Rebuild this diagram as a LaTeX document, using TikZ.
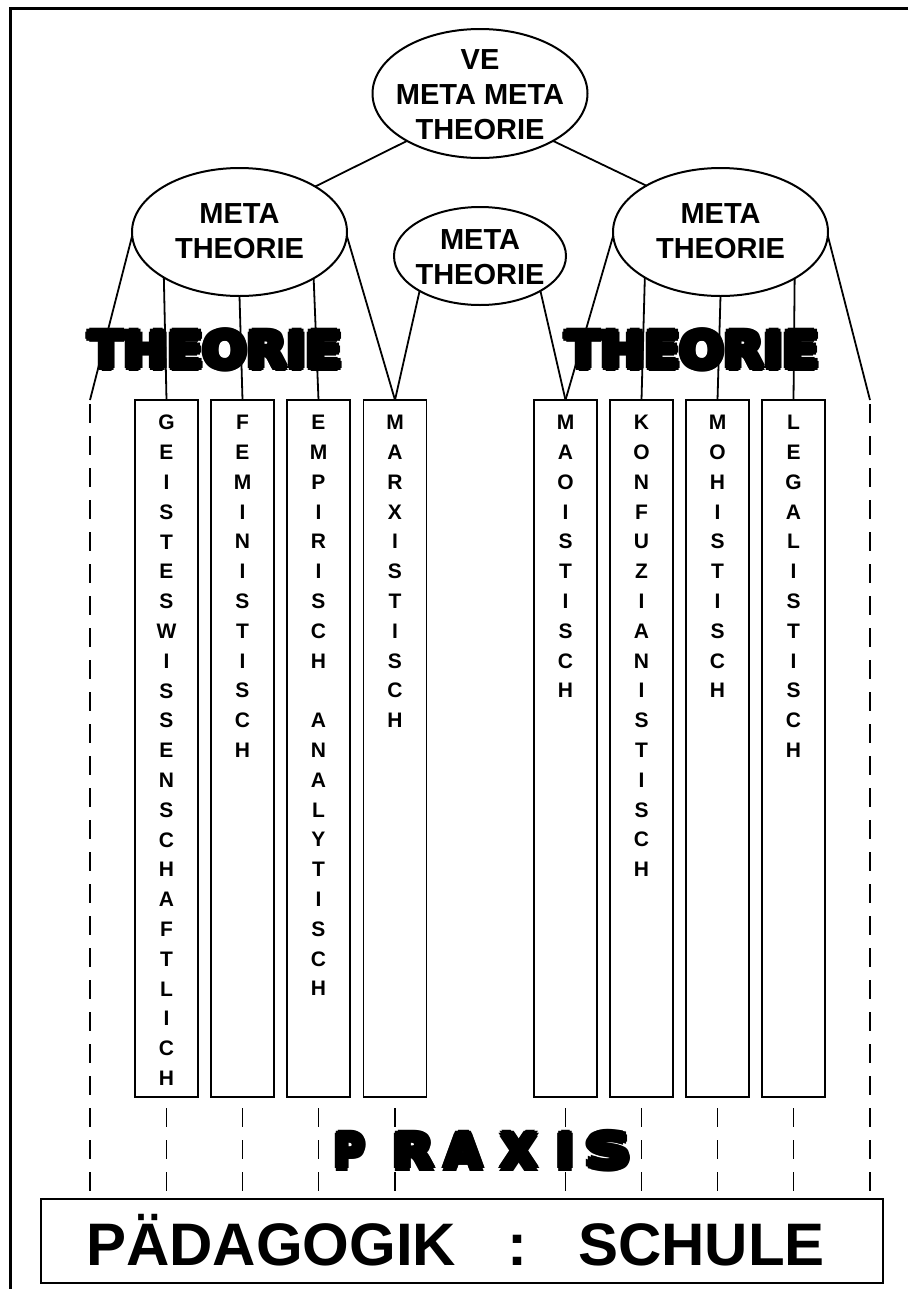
\documentclass[tikz,border=0pt]{standalone}
\usepackage{graphicx}
\usepackage{fontspec}
\setmainfont{Liberation Sans}
\newfontfamily\heavy{DejaVu Sans Bold}
\newdimen\smd
\newcommand\smc[3]{\rlap{\smash{\kern#1\smd\raise#2\smd\hbox{#3}}}}
\newcommand\heavytxt[1]{\smd=0.7pt\leavevmode\heavy
 \smc{1}{0}{#1}\smc{-1}{0}{#1}\smc{0}{1}{#1}\smc{0}{-1}{#1}%
 \smc{0.707}{0.707}{#1}\smc{-0.707}{0.707}{#1}\smc{0.707}{-0.707}{#1}\smc{-0.707}{-0.707}{#1}%
 \hbox{#1}}
\usetikzlibrary{shapes.geometric}
\begin{document}
\begin{tikzpicture}[x=0.75pt,y=-0.75pt,
  ell/.style={draw, ellipse, line width=1.5pt, inner sep=0pt, outer sep=0pt},
  etext/.style={font=\fontsize{21.75pt}{26.25pt}\selectfont\bfseries, align=center, inner sep=0pt},
  colbox/.style={draw, rectangle, line width=1pt, minimum width=47.25pt, minimum height=522.75pt, anchor=north, inner sep=0pt, outer sep=0pt},
  coltext/.style={font=\fontsize{15.75pt}{22.35pt}\selectfont\bfseries, align=center, anchor=north, inner sep=0pt},
  conn/.style={line width=1.35pt},
  dashline/.style={line width=1.3pt, dash pattern=on 14.25pt off 9.75pt},
  bigtext/.style={font=\fontsize{45pt}{54pt}\selectfont\bfseries, inner sep=0pt},
  heavylbl/.style={inner sep=0pt, font=\fontsize{10pt}{12pt}\selectfont}
]
\useasboundingbox (0,0) rectangle (908,1289);
% frame
\draw[line width=1.6pt] (908,8.5) -- (10.5,8.5) -- (10.5,1289);

% ellipses
\node[ell, minimum width=161.25pt, minimum height=96.75pt] (top) at (480,93.5) {};
\node[ell, minimum width=161.25pt, minimum height=96pt] (left) at (239.5,232) {};
\node[ell, minimum width=129pt, minimum height=73.5pt] (mid) at (480,256) {};
\node[ell, minimum width=161.25pt, minimum height=96pt] (right) at (720.5,232) {};
\node[etext] (toptext) at (480,95) {VE\\META META\\THEORIE};
\node[etext] (lefttext) at (239.5,231.5) {META\\THEORIE};
\node[etext] (midtext) at (480,257) {META\\THEORIE};
\node[etext] (righttext) at (720.5,231.5) {META\\THEORIE};

% column boxes
\node[colbox] (b1) at (166.5,400) {};
\node[colbox] (b2) at (242.5,400) {};
\node[colbox] (b3) at (318.5,400) {};
\node[colbox] (b4) at (395,400) {};
\node[colbox] (b5) at (565.5,400) {};
\node[colbox] (b6) at (641.5,400) {};
\node[colbox] (b7) at (717.5,400) {};
\node[colbox] (b8) at (793.5,400) {};

\node[coltext] (t1) at (166.5,415) {G\\E\\I\\S\\T\\E\\S\\W\\I\\S\\S\\E\\N\\S\\C\\H\\A\\F\\T\\L\\I\\C\\H};
\node[coltext] (t2) at (242.5,415) {F\\E\\M\\I\\N\\I\\S\\T\\I\\S\\C\\H};
\node[coltext] (t3) at (318.5,415) {E\\M\\P\\I\\R\\I\\S\\C\\H\\\mbox{}\\A\\N\\A\\L\\Y\\T\\I\\S\\C\\H};
\node[coltext] (t4) at (395,415) {M\\A\\R\\X\\I\\S\\T\\I\\S\\C\\H};
\node[coltext] (t5) at (565.5,415) {M\\A\\O\\I\\S\\T\\I\\S\\C\\H};
\node[coltext] (t6) at (641.5,415) {K\\O\\N\\F\\U\\Z\\I\\A\\N\\I\\S\\T\\I\\S\\C\\H};
\node[coltext] (t7) at (717.5,415) {M\\O\\H\\I\\S\\T\\I\\S\\C\\H};
\node[coltext] (t8) at (793.5,415) {L\\E\\G\\A\\L\\I\\S\\T\\I\\S\\C\\H};

% bottom box
\node[draw, line width=1.5pt, minimum width=631.5pt, minimum height=63pt, inner sep=0pt, outer sep=0pt] (pk) at (462,1241) {};
\node[bigtext, anchor=base west] (paed) at (86,1265) {PÄDAGOGIK};
\node[bigtext, anchor=base] (colon) at (517,1265) {:};
\node[bigtext, anchor=base west] (schule) at (578,1265) {SCHULE};

% connectors
\coordinate (L1) at (90,400);
\coordinate (R1) at (870,400);
\draw[conn] (top.213) -- (left.31.7);
\draw[conn] (top.327) -- (right.148.3);
\draw[conn] (left.182) -- (L1);
\draw[conn] (left.211.5) -- (b1.north);
\draw[conn] (left.south) -- (b2.north);
\draw[conn] (left.328.5) -- (b3.north);
\draw[conn] (left.358) -- (b4.north);
\draw[conn] (mid.210) -- (b4.north);
\draw[conn] (mid.330) -- (b5.north);
\draw[conn] (right.182) -- (b5.north);
\draw[conn] (right.211.5) -- (b6.north);
\draw[conn] (right.south) -- (b7.north);
\draw[conn] (right.328.5) -- (b8.north);
\draw[conn] (right.358) -- (R1);

% dashed lines
\draw[dashline, dash phase=21pt] (L1) -- (L1 |- pk.north);
\draw[dashline, dash phase=21pt] (R1) -- (R1 |- pk.north);
\foreach \i in {1,...,8} \draw[dashline, dash phase=15.75pt] (b\i.south) -- (b\i.south |- pk.north);

% heavy labels
\node[heavylbl] (th1) at (215.5,350) {\resizebox{189.6pt}{27.7pt}{\heavytxt{THEORIE}}};
\node[heavylbl] (th2) at (692.5,350) {\resizebox{189.6pt}{27.7pt}{\heavytxt{THEORIE}}};
\node[heavylbl] (pxP) at (350,1151) {\resizebox{22.8pt}{26.4pt}{\heavytxt{P}}};
\node[heavylbl] (pxR) at (413.5,1151) {\resizebox{30.7pt}{26.4pt}{\heavytxt{R}}};
\node[heavylbl] (pxA) at (463.5,1151) {\resizebox{27.7pt}{26.4pt}{\heavytxt{A}}};
\node[heavylbl] (pxX) at (519,1151) {\resizebox{27.3pt}{26.4pt}{\heavytxt{X}}};
\node[heavylbl] (pxI) at (565.5,1151) {\resizebox{12.7pt}{26.4pt}{\heavytxt{I}}};
\node[heavylbl] (pxS) at (608.5,1151) {\resizebox{33.4pt}{26.4pt}{\heavytxt{S}}};
\end{tikzpicture}
\end{document}
